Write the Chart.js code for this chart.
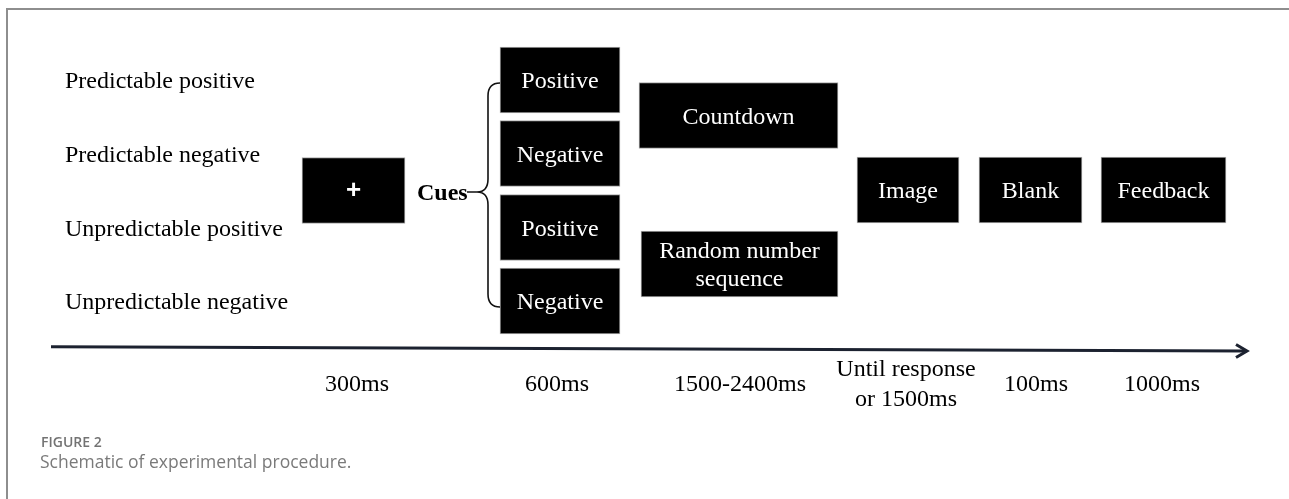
<!DOCTYPE html>
<html>
<head>
<meta charset="utf-8">
<script src="https://cdn.jsdelivr.net/npm/chart.js@4.4.1/dist/chart.umd.min.js"></script>
<style>
  body { margin: 0; background: #fff; }
  .frame { position: absolute; left: 6px; top: 8px; right: -4px; bottom: -4px;
           border-left: 2px solid #8e8e8e; border-top: 2px solid #8e8e8e; }
  #proc { position: absolute; left: 0; top: 0; }
  .fig-no { position: absolute; left: 41px; top: 432px; font: 600 14px "Open Sans"; color: #737373; }
  .fig-title { position: absolute; left: 40px; top: 449px; font: 17.5px "Open Sans"; color: #7a7a7a; }
</style>
</head>
<body>
<div class="frame"></div>
<canvas id="proc" width="1289" height="499"></canvas>
<div class="fig-no">FIGURE 2</div>
<div class="fig-title">Schematic of experimental procedure.</div>
<script>
// ---------- trial content ----------
const conditions = ['Predictable positive', 'Predictable negative', 'Unpredictable positive', 'Unpredictable negative'];
const cueLabels = ['Positive', 'Negative', 'Positive', 'Negative'];
const cueTitle = 'Cues';
const fixation = '+';
const waitLabels = ['Countdown', ['Random number', 'sequence']];
const outcomeLabels = ['Image', 'Blank', 'Feedback'];
const durations = ['300ms', '600ms', '1500-2400ms', ['Until response', 'or 1500ms'], '100ms', '1000ms'];

// ---------- layout (in scale units, 1 unit = 1px) ----------
const rowY = [80, 153.5, 227.5, 301];
const fixSpan = [302, 405], fixY = 190.5;
const cueSpan = [500, 620];
const waitSpans = [[639, 838], [641, 838]], waitY = [115.5, 264];
const outcomeSpans = [[857, 959], [979, 1082], [1101, 1226]], outcomeY = 190;
const durationX = [357, 557, 740, 906, 1036, 1162], durationY = 383;
const arrowFrom = [51, 346.7], arrowTo = [1247, 351];

const serif = '"Liberation Serif", "Times New Roman", serif';
const dy = 2; // canvas 'middle' sits a touch high for this serif

// boxes drawn as floating horizontal bars
const boxes = [];
boxes.push({ x: fixSpan, y: fixY, text: fixation });
cueLabels.forEach((l, i) => boxes.push({ x: cueSpan, y: rowY[i], text: l }));
waitLabels.forEach((l, i) => boxes.push({ x: waitSpans[i], y: waitY[i], text: l }));
outcomeLabels.forEach((l, i) => boxes.push({ x: outcomeSpans[i], y: outcomeY, text: l }));

function lines(t) { return Array.isArray(t) ? t : [t]; }

const schematic = {
  id: 'schematic',
  afterDatasetsDraw(chart) {
    const c = chart.ctx;
    const sx = chart.scales.x, sy = chart.scales.y;
    const px = v => sx.getPixelForValue(v), py = v => sy.getPixelForValue(v);
    c.save();
    c.textBaseline = 'middle';

    // text inside the boxes
    chart.getDatasetMeta(0).data.forEach((bar, i) => {
      const cx = (bar.x + bar.base) / 2;
      const t = lines(boxes[i].text);
      c.fillStyle = '#fff';
      c.textAlign = 'center';
      if (boxes[i].text === fixation) {
        c.font = 'bold 26px "Liberation Sans", Arial, sans-serif';
        c.fillText(t[0], cx, bar.y);
        return;
      }
      c.font = '24px ' + serif;
      t.forEach((s, k) => c.fillText(s, cx, bar.y + dy + (k - (t.length - 1) / 2) * 28));
    });

    // condition names
    c.fillStyle = '#000';
    c.textAlign = 'left';
    c.font = '24px ' + serif;
    conditions.forEach((s, i) => c.fillText(s, px(65), py(rowY[i] + dy)));

    // Cues + brace
    c.font = 'bold 24px ' + serif;
    c.fillText(cueTitle, px(417), py(192 + dy));
    c.strokeStyle = '#111';
    c.lineWidth = 1.6;
    c.beginPath();
    c.moveTo(px(467), py(192));
    c.lineTo(px(477), py(192));
    c.moveTo(px(500), py(83));
    c.quadraticCurveTo(px(488), py(83), px(488), py(96));
    c.lineTo(px(488), py(179));
    c.quadraticCurveTo(px(488), py(192), px(477), py(192));
    c.quadraticCurveTo(px(488), py(192), px(488), py(205));
    c.lineTo(px(488), py(294));
    c.quadraticCurveTo(px(488), py(307), px(500), py(307));
    c.stroke();

    // time arrow
    c.strokeStyle = '#1c2230';
    c.lineWidth = 3;
    c.beginPath();
    c.moveTo(px(arrowFrom[0]), py(arrowFrom[1]));
    c.lineTo(px(arrowTo[0]) - 1, py(arrowTo[1]));
    c.stroke();
    c.lineJoin = 'miter';
    c.beginPath();
    c.moveTo(px(arrowTo[0] - 11), py(arrowTo[1] - 6.5));
    c.lineTo(px(arrowTo[0]), py(arrowTo[1]));
    c.lineTo(px(arrowTo[0] - 11), py(arrowTo[1] + 6.5));
    c.stroke();

    // durations
    c.fillStyle = '#000';
    c.textAlign = 'center';
    c.font = '24px ' + serif;
    durations.forEach((d, i) => {
      const t = lines(d);
      t.forEach((s, k) => c.fillText(s, px(durationX[i]), py(durationY + dy + (k - (t.length - 1) / 2) * 30)));
    });
    c.restore();
  }
};

new Chart(document.getElementById('proc'), {
  type: 'bar',
  data: {
    datasets: [{
      data: boxes.map(b => ({ x: b.x, y: b.y })),
      backgroundColor: '#000',
      borderColor: '#a8a8a8',
      borderWidth: 1,
      borderSkipped: false,
      barThickness: 66
    }]
  },
  options: {
    indexAxis: 'y',
    responsive: false,
    animation: false,
    devicePixelRatio: 1,
    layout: { padding: 0 },
    scales: {
      x: { type: 'linear', min: 0, max: 1289, offset: false, display: false },
      y: { type: 'linear', min: 0, max: 499, reverse: true, offset: false, display: false }
    },
    plugins: { legend: { display: false }, tooltip: { enabled: false } }
  },
  plugins: [schematic]
});
</script>
</body>
</html>
